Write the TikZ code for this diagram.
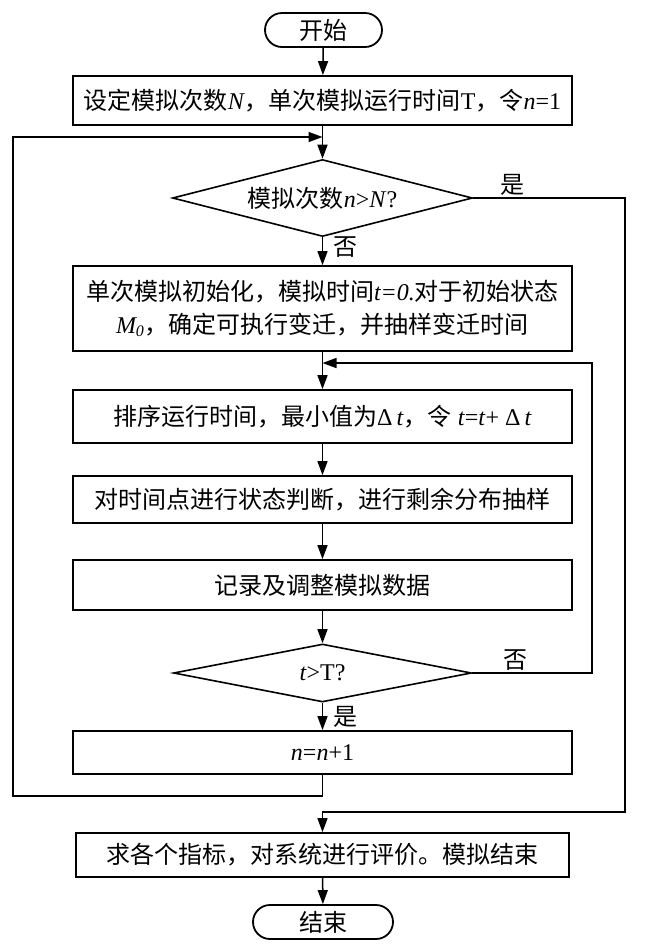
\documentclass[tikz,border=0pt]{standalone}
\usepackage{fontspec}
\setmainfont{Liberation Serif}
\newfontfamily\cjk{Noto Sans CJK SC}
\usetikzlibrary{arrows.meta}
\usetikzlibrary{shapes.geometric}
\newcommand{\zh}[1]{{\cjk #1}}

\begin{document}
\begin{tikzpicture}[x=0.5pt,y=-0.5pt,font=\fontsize{12}{16.5}\selectfont,
        proc/.style={draw=black,line width=0.9pt,minimum width=249.5pt,inner sep=0pt,align=center},
        term/.style={draw=black,line width=0.9pt,rounded corners=8.5pt,minimum height=17pt,inner sep=0pt},
        decide/.style={shape=diamond,draw=black,line width=0.8pt,inner sep=0pt},
        link/.style={line width=0.75pt},
        flow/.style={link,-{Triangle[length=7pt,width=5pt]}}]
        \useasboundingbox (0,0) rectangle (646,950);
        \node[term,minimum width=58.5pt] (start) at (323.5,30) {\zh{开始}};
        \node[proc,minimum height=24.5pt] (setup) at (322.5,100.5) {\zh{设定模拟次数}\textit{N}\zh{，单次模拟运行时间}T\zh{，令}\textit{n}=1};
        \node[decide,aspect=3.9,minimum width=150pt,minimum height=38.5pt] (chk) at (322.5,198) {\zh{模拟次数}\textit{n}>\textit{N}?};
        \node[proc,minimum height=42.5pt] (init) at (322.5,308.5) {\zh{单次模拟初始化，模拟时间}\textit{t=0.}\zh{对于初始状态}\\\textit{M\textsubscript{0}}\zh{，确定可执行变迁，并抽样变迁时间}};
        \node[proc,minimum height=26.5pt] (sort) at (322.5,416.5) {\zh{排序运行时间，最小值为}Δ\,\textit{t}\zh{，令} \textit{t}=\textit{t}+ Δ\,\textit{t}};
        \node[proc,minimum height=23.5pt] (judge) at (322.5,499.5) {\zh{对时间点进行状态判断，进行剩余分布抽样}};
        \node[proc,minimum height=25pt] (rec) at (322.5,585) {\zh{记录及调整模拟数据}};
        \node[decide,aspect=5.1,minimum width=149pt,minimum height=29pt] (tchk) at (322.5,673) {\textit{t}>T?};
        \node[proc,minimum height=21.5pt] (inc) at (322.5,752.5) {\textit{n}=\textit{n}+1};
        \node[proc,minimum width=246.5pt,minimum height=22pt] (eval) at (322.5,855) {\zh{求各个指标，对系统进行评价。模拟结束}};
        \node[term,minimum width=70pt] (stop) at (323,922) {\zh{结束}};
        \coordinate (yesR) at (625,812);
        \coordinate (noR) at (592,363);
        \coordinate (backB) at (13,796);
        \coordinate (backT) at (13,137);
        \draw[flow] (start) -- (setup);
        \draw[flow] (setup) -- (chk);
        \draw[flow] (chk) -- node[right,pos=0.35,inner sep=1pt,xshift=4pt]{\zh{否}} (init);
        \draw[flow] (chk.east) -| node[above,pos=0.13,inner sep=1pt]{\zh{是}} (yesR) -| (eval);
        \draw[flow] (init) -- (sort);
        \draw[flow] (sort) -- (judge);
        \draw[flow] (judge) -- (rec);
        \draw[flow] (rec) -- (tchk);
        \draw[flow] (tchk) -- node[right,pos=0.5,inner sep=1pt,xshift=4pt]{\zh{是}} (inc);
        \draw[flow] (tchk.east) -| node[above,pos=0.18,inner sep=1pt]{\zh{否}} (noR) -- (noR -| sort);
        \draw[flow] (inc) |- (backB) |- (setup.south |- backT);
        \draw[flow] (eval) -- (stop);
    \end{tikzpicture}
\end{document}
